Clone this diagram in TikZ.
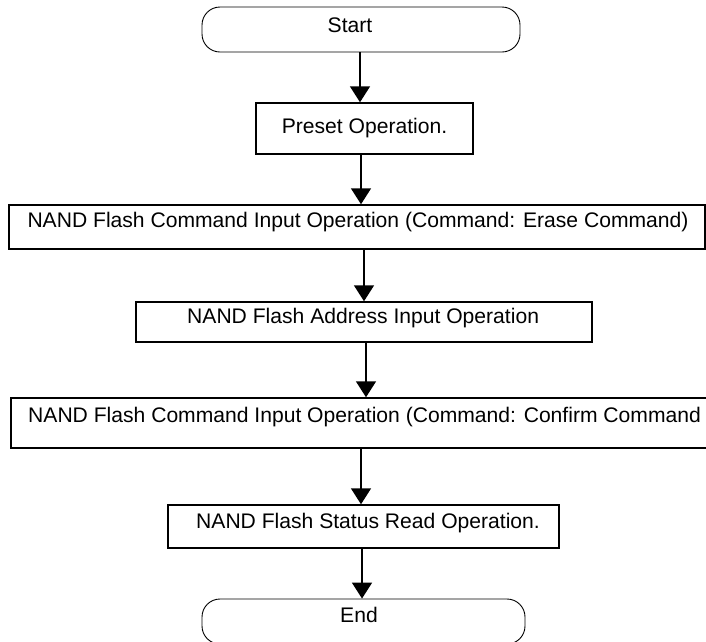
\documentclass[tikz,border=0pt]{standalone}
\usepackage{fontspec}
\setmainfont{Liberation Sans}
\usetikzlibrary{arrows.meta}
\begin{document}
\begin{tikzpicture}[x=1pt,y=-1pt,
  every node/.style={font=\fontsize{21.1}{25}\selectfont},
  procbox/.style={draw, line width=1.5pt, inner sep=0pt},
  termbox/.style={draw, line width=0.9pt, rounded corners=18pt, inner sep=0pt},
  lbl/.style={inner sep=0pt, anchor=base},
  arr/.style={line width=1.7pt, -{Triangle[width=20pt,length=16pt]}}]
\useasboundingbox (0,0) rectangle (706,641);
\clip (0,0) rectangle (706,641);
% shapes
\node[termbox, minimum width=318pt, minimum height=45pt] (start) at (361,29.5) {};
\node[procbox, minimum width=217pt, minimum height=51pt] (preset) at (364.5,128.5) {};
\node[procbox, minimum width=696pt, minimum height=44pt] (b3) at (357,227) {};
\node[procbox, minimum width=456pt, minimum height=40pt] (b4) at (364,322) {};
\node[procbox, minimum width=724pt, minimum height=50pt] (b5) at (373,423) {};
\node[procbox, minimum width=391pt, minimum height=43pt] (b6) at (363.5,526.5) {};
\node[termbox, minimum width=323pt, minimum height=45pt] (end) at (363.5,621.5) {};
% labels
\node[lbl] (tstart) at (350,32) {Start};
\node[lbl] (tpreset) at (364.5,133) {Preset Operation.};
\node[lbl] (tb3) at (358,227) {NAND Flash Command Input Operation (Command: Erase Command)};
\node[lbl, anchor=base west] (tb4) at (187,323) {NAND Flash Address Input Operation};
\node[lbl, anchor=base west] (tb5) at (28,422) {NAND Flash Command Input Operation (Command: Confirm Command};
\node[lbl, anchor=base west] (tb6) at (196,528) {NAND Flash Status Read Operation.};
\node[lbl] (tend) at (359,622) {End};
% connectors
\draw[arr] ([xshift=-1pt]start.south) -- ([xshift=-4.5pt]preset.north);
\draw[arr] ([xshift=-3.5pt]preset.south) -- ([xshift=4pt]b3.north);
\draw[arr] ([xshift=7pt]b3.south) -- (b4.north);
\draw[arr] ([xshift=2pt]b4.south) -- ([xshift=-7pt]b5.north);
\draw[arr] ([xshift=-12pt]b5.south) -- ([xshift=-2.5pt]b6.north);
\draw[arr] ([xshift=-1.5pt]b6.south) -- ([xshift=-1.5pt]end.north);
\end{tikzpicture}
\end{document}
